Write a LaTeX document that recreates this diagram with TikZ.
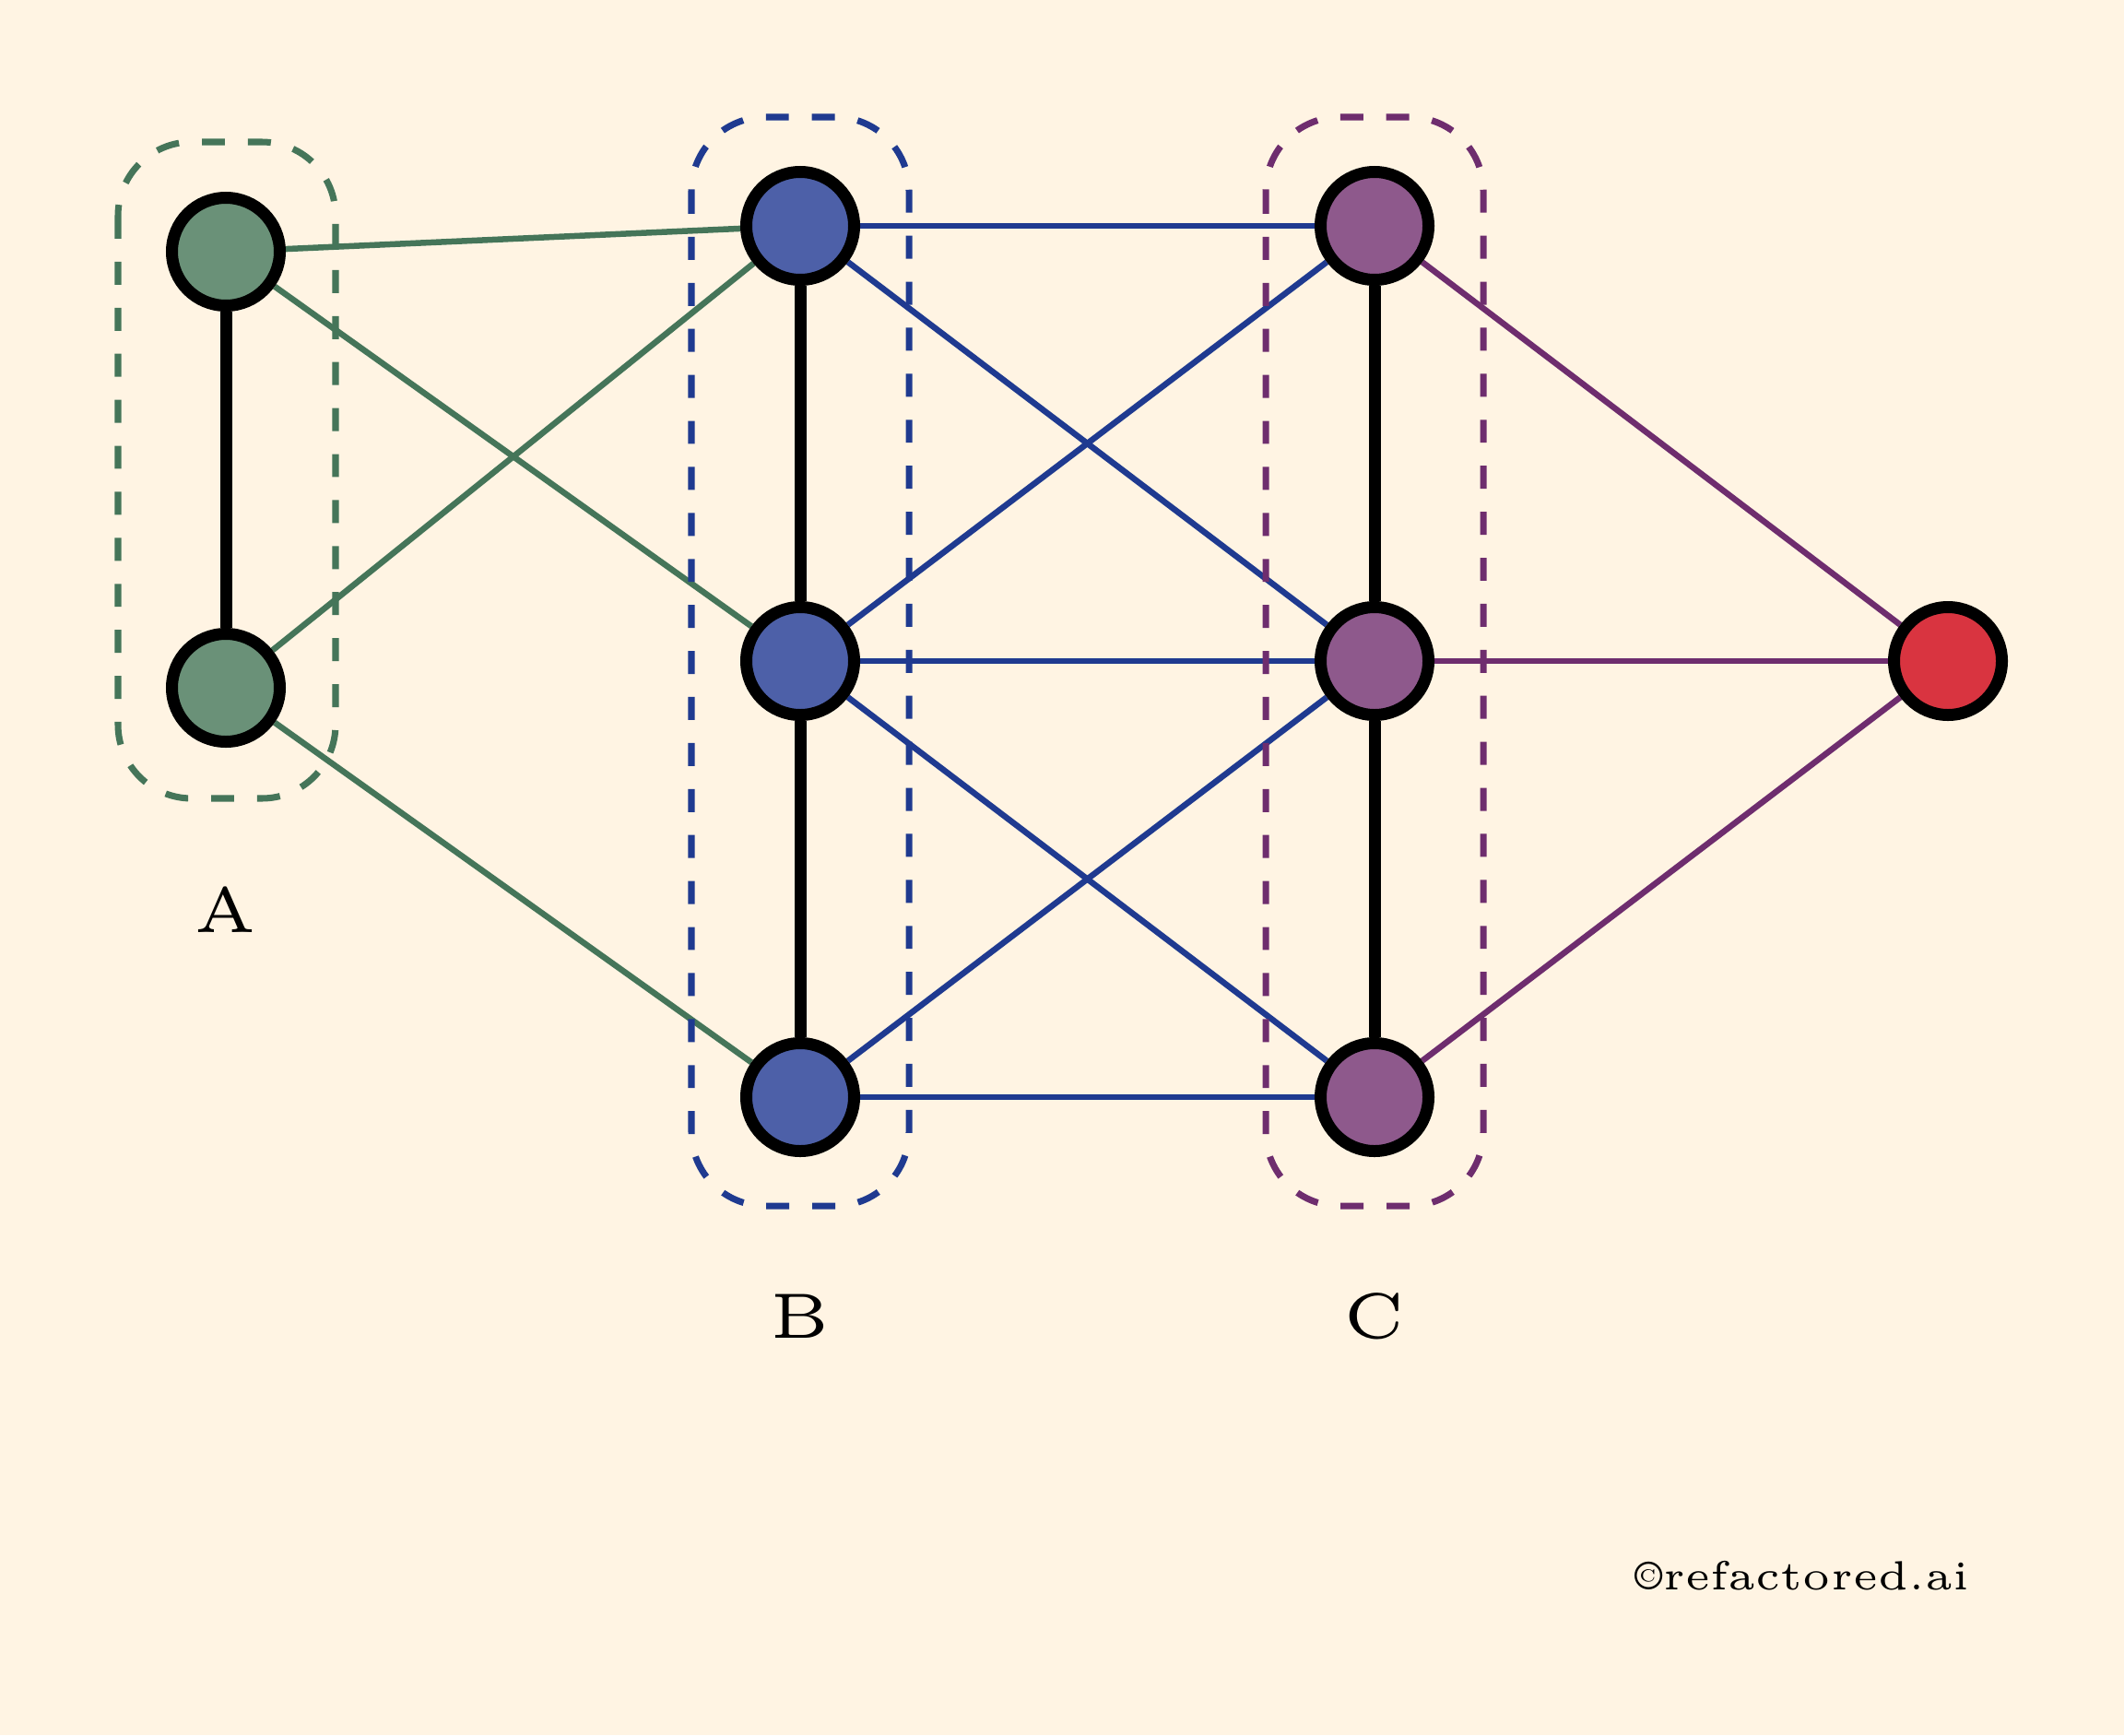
\documentclass[tikz,border=0pt]{standalone}
\usetikzlibrary{backgrounds}
\definecolor{bgcol}{HTML}{FFF4E3}
\definecolor{gfill}{HTML}{6A9178}
\definecolor{gline}{HTML}{457559}
\definecolor{bfill}{HTML}{4D60A8}
\definecolor{bline}{HTML}{1F3A90}
\definecolor{pfill}{HTML}{8E598C}
\definecolor{pline}{HTML}{6E2D6E}
\definecolor{rfill}{HTML}{D93440}
\pgfdeclarelayer{edgelayer}
\pgfsetlayers{background,edgelayer,main}
\tikzset{
  vert/.style={circle, draw=black, line width=3.7pt, minimum size=1.17cm, inner sep=0pt},
  gnode/.style={vert, fill=gfill},
  bnode/.style={vert, fill=bfill},
  pnode/.style={vert, fill=pfill},
  rnode/.style={vert, fill=rfill},
  intra/.style={line width=3.7pt, draw=black},
  gedge/.style={line width=1.85pt, draw=gline},
  bedge/.style={line width=1.85pt, draw=bline},
  pedge/.style={line width=1.85pt, draw=pline},
  grp/.style={line width=2pt, dash pattern=on 7.1pt off 7.1pt, rounded corners=0.8cm},
  lbl/.style={font=\fontsize{5}{6}\selectfont, inner sep=0pt, scale=3.95},
  wmark/.style={font=\fontsize{5}{6}\selectfont, inner sep=0pt, scale=2.52},
}
\begin{document}
\begin{tikzpicture}
\begin{pgfonlayer}{background}
\fill[bgcol] (0,0) rectangle (23.04,-18.82);
\end{pgfonlayer}
\useasboundingbox (0,0) rectangle (23.04,-18.82);

% group boxes
\draw[grp, draw=gline] (1.28,-1.54) rectangle (3.64,-8.66);
\draw[grp, draw=bline] (7.50,-1.27) rectangle (9.86,-13.08);
\draw[grp, draw=pline] (13.73,-1.27) rectangle (16.09,-13.08);

% nodes
\node[gnode] (a1) at (2.45,-2.73) {};
\node[gnode] (a2) at (2.45,-7.46) {};
\node[bnode] (b1) at (8.68,-2.45) {};
\node[bnode] (b2) at (8.68,-7.17) {};
\node[bnode] (b3) at (8.68,-11.90) {};
\node[pnode] (c1) at (14.91,-2.45) {};
\node[pnode] (c2) at (14.91,-7.17) {};
\node[pnode] (c3) at (14.91,-11.90) {};
\node[rnode] (r) at (21.13,-7.17) {};

% labels
\node[lbl] (la) at (2.45,-9.87) {A};
\node[lbl] (lb) at (8.68,-14.28) {B};
\node[lbl] (lc) at (14.91,-14.28) {C};
\node[wmark] (wm) at (19.55,-17.09) {\textcopyright refactored.ai};

\begin{pgfonlayer}{edgelayer}
\draw[intra] (a1) -- (a2);
\draw[intra] (b1) -- (b2);
\draw[intra] (b2) -- (b3);
\draw[intra] (c1) -- (c2);
\draw[intra] (c2) -- (c3);
\draw[gedge] (a1) -- (b1);
\draw[gedge] (a1) -- (b2);
\draw[gedge] (a2) -- (b1);
\draw[gedge] (a2) -- (b3);
\draw[bedge] (b1) -- (c1);
\draw[bedge] (b1) -- (c2);
\draw[bedge] (b2) -- (c1);
\draw[bedge] (b2) -- (c2);
\draw[bedge] (b2) -- (c3);
\draw[bedge] (b3) -- (c2);
\draw[bedge] (b3) -- (c3);
\draw[pedge] (c1) -- (r);
\draw[pedge] (c2) -- (r);
\draw[pedge] (c3) -- (r);
\end{pgfonlayer}
\end{tikzpicture}
\end{document}
